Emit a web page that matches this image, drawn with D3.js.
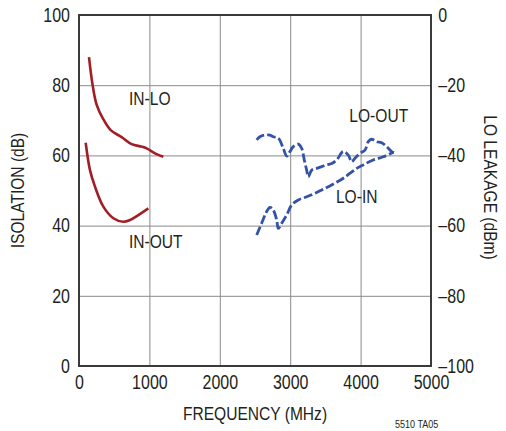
<!DOCTYPE html>
<html>
<head>
<meta charset="utf-8">
<script src="https://cdn.jsdelivr.net/npm/d3@7"></script>
<style>
  body { margin: 0; background: #fff; }
  svg text { font-family: "Liberation Sans Narrow", "Arial Narrow", "Liberation Sans", sans-serif; fill: #231f20; }
</style>
</head>
<body>
<div id="chart"></div>
<script>
// frequency ticks (MHz) and both y axes
const freqTicks = [0, 1000, 2000, 3000, 4000, 5000];
const isoTicks = [0, 20, 40, 60, 80, 100];
const leakTicks = [-100, -80, -60, -40, -20, 0];

// isolation curves, dB (left axis)
const inLoFreq = [142, 190, 251, 340, 450, 606, 748, 890, 961, 1080, 1198];
const inLoIso  = [88, 80.5, 74.4, 70.5, 67.2, 65.2, 63.2, 62.5, 62.0, 60.6, 59.6];
const inOutFreq = [95, 156, 227, 346, 488, 630, 724, 843, 985];
const inOutIso  = [63.6, 55.8, 51.1, 45.4, 42.1, 41.1, 41.6, 43.0, 44.9];

// LO leakage curves, dBm (right axis)
const loOutFreq = [2524, 2571, 2642, 2713, 2760, 2831, 2902, 2950, 2997, 3044, 3115, 3163, 3200, 3234, 3257,
                   3305, 3376, 3447, 3518, 3589, 3660, 3754, 3825, 3873, 3920, 3991, 4062, 4109, 4157, 4229,
                   4300, 4370, 4442, 4474];
const loOutDbm  = [-35.6, -34.7, -34.2, -34.2, -34.7, -35.1, -38.0, -40.2, -38.9, -37.5, -36.8, -38.0, -41.3, -44.2, -46.1,
                   -44.2, -43.7, -43.2, -42.7, -42.3, -41.3, -38.9, -39.9, -41.8, -40.8, -39.4, -38.5, -36.1, -35.4, -36.1,
                   -36.4, -37.5, -38.9, -39.2];
const loInFreq = [2524, 2595, 2666, 2713, 2760, 2808, 2831, 2879, 2950, 3021, 3115, 3234, 3352, 3494, 3636,
                  3754, 3945, 4038, 4180, 4322, 4465];
const loInDbm  = [-62.7, -59.3, -56.0, -54.8, -55.6, -58.4, -60.8, -59.3, -57.0, -54.1, -52.7, -51.8, -50.8, -49.4, -47.9,
                  -46.5, -43.7, -42.7, -41.3, -40.4, -39.1];

const margin = {top: 15, right: 75, bottom: 65, left: 79};
const width = 506, height = 431;
const w = width - margin.left - margin.right;
const h = height - margin.top - margin.bottom;

// the original type is a condensed face; squeeze the regular one
const squeeze = 0.82;

const svg = d3.select("#chart").append("svg")
    .attr("width", width)
    .attr("height", height);

const g = svg.append("g")
    .attr("transform", `translate(${margin.left},${margin.top})`);

const x = d3.scaleLinear().domain([0, 5000]).range([0, w]);
const yL = d3.scaleLinear().domain([0, 100]).range([h, 0]);
const yR = d3.scaleLinear().domain([-100, 0]).range([h, 0]);

// gridlines
g.append("g")
    .attr("class", "grid")
    .attr("transform", `translate(0,${h})`)
    .call(d3.axisBottom(x).tickValues(freqTicks).tickSize(-h).tickFormat(""))
    .call(a => a.select(".domain").remove());
g.append("g")
    .attr("class", "grid")
    .call(d3.axisLeft(yL).tickValues(isoTicks).tickSize(-w).tickFormat(""))
    .call(a => a.select(".domain").remove());
g.selectAll(".grid line").attr("stroke", "#8a8a8a").attr("stroke-width", 1);

// frame
g.append("rect")
    .attr("width", w).attr("height", h)
    .attr("fill", "none").attr("stroke", "#3a3a3a").attr("stroke-width", 2);

// tick labels
const fmt = d => d < 0 ? "\u2013" + Math.abs(d) : String(d);
const styleTicks = sel => sel.selectAll("text")
    .attr("font-size", 19.5)
    .attr("font-family", null)
    .attr("transform", `scale(${squeeze},1)`);

g.append("g")
    .attr("transform", `translate(0,${h})`)
    .call(d3.axisBottom(x).tickValues(freqTicks).tickSize(0).tickPadding(9).tickFormat(fmt))
    .call(a => a.select(".domain").remove())
    .call(styleTicks);

g.append("g")
    .call(d3.axisLeft(yL).tickValues(isoTicks).tickSize(0).tickPadding(11).tickFormat(fmt))
    .call(a => a.select(".domain").remove())
    .call(styleTicks);

g.append("g")
    .attr("transform", `translate(${w},0)`)
    .call(d3.axisRight(yR).tickValues(leakTicks).tickSize(0).tickPadding(9).tickFormat(fmt))
    .call(a => a.select(".domain").remove())
    .call(styleTicks);

// axis titles
function label(parent, tx, ty, rot, txt, size, anchor) {
    parent.append("text")
        .attr("transform", `translate(${tx},${ty}) rotate(${rot}) scale(${squeeze},1)`)
        .attr("text-anchor", anchor)
        .attr("font-size", size)
        .text(txt);
}

label(svg, margin.left + w / 2, 420, 0, "FREQUENCY (MHz)", 19, "middle");
label(svg, 24, margin.top + h / 2, -90, "ISOLATION (dB)", 19, "middle");
label(svg, 484, margin.top + h / 2 - 3, 90, "LO LEAKAGE (dBm)", 19, "middle");
label(svg, 395, 428, 0, "5510 TA05", 11, "start");

// curves
const red = "#a21e26", blue = "#3452a6";

const isoLine = d3.line().x(d => x(d[0])).y(d => yL(d[1])).curve(d3.curveCatmullRom);
const leakLine = d3.line().x(d => x(d[0])).y(d => yR(d[1])).curve(d3.curveCatmullRom);

g.append("path")
    .datum(d3.zip(inLoFreq, inLoIso))
    .attr("d", isoLine)
    .attr("fill", "none").attr("stroke", red).attr("stroke-width", 2.6);

g.append("path")
    .datum(d3.zip(inOutFreq, inOutIso))
    .attr("d", isoLine)
    .attr("fill", "none").attr("stroke", red).attr("stroke-width", 2.6);

g.append("path")
    .datum(d3.zip(loOutFreq, loOutDbm))
    .attr("d", leakLine)
    .attr("fill", "none").attr("stroke", blue).attr("stroke-width", 2.8)
    .attr("stroke-dasharray", "9,3");

g.append("path")
    .datum(d3.zip(loInFreq, loInDbm))
    .attr("d", leakLine)
    .attr("fill", "none").attr("stroke", blue).attr("stroke-width", 2.8)
    .attr("stroke-dasharray", "9,3");

// curve labels
const curveLabels = ["IN-LO", "IN-OUT", "LO-OUT", "LO-IN"];
const labelFreq = [710, 710, 3840, 3650];
const labelIso = [74.5, 33.5, 69.5, 46.5];
curveLabels.forEach((t, i) =>
    label(g, x(labelFreq[i]), yL(labelIso[i]), 0, t, 19, "start"));
</script>
</body>
</html>
